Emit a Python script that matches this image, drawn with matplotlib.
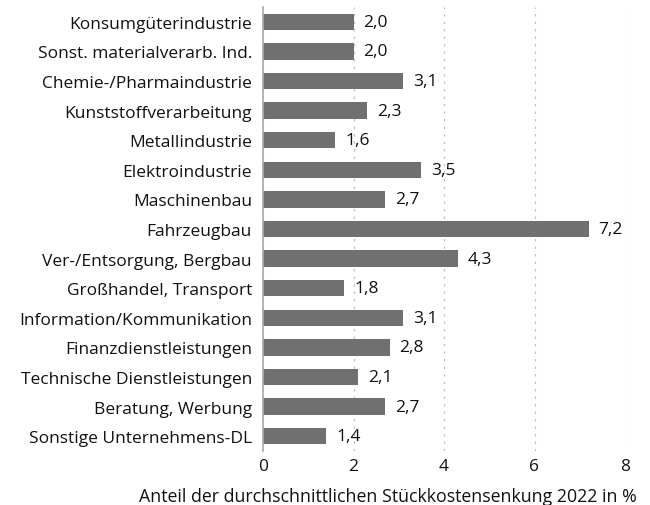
import matplotlib
matplotlib.use("Agg")
import matplotlib.pyplot as plt

categories = ["Konsumgüterindustrie", "Sonst. materialverarb. Ind.", "Chemie-/Pharmaindustrie",
              "Kunststoffverarbeitung", "Metallindustrie", "Elektroindustrie", "Maschinenbau",
              "Fahrzeugbau", "Ver-/Entsorgung, Bergbau", "Großhandel, Transport",
              "Information/Kommunikation", "Finanzdienstleistungen", "Technische Dienstleistungen",
              "Beratung, Werbung", "Sonstige Unternehmens-DL"]
values = [2.0, 2.0, 3.1, 2.3, 1.6, 3.5, 2.7, 7.2, 4.3, 1.8, 3.1, 2.8, 2.1, 2.7, 1.4]
xticks = [0, 2, 4, 6, 8]
xlabel = "Anteil der durchschnittlichen Stückkostensenkung 2022 in %"

FS = 12.5
TXT = "#111111"
plt.rcParams['font.family'] = ['Open Sans', 'DejaVu Sans']
fig = plt.figure(figsize=(6.5, 5.06), dpi=100)
ax = fig.add_axes([263/650, 1-452/506, 362/650, 444/506])
n = len(categories)
ypos = list(range(n))[::-1]
ax.barh(ypos, values, height=0.55, color="#707070", zorder=3)
for y, v in zip(ypos, values):
    ax.annotate(f"{v:.1f}".replace(".", ","), (v, y), xytext=(7, 0), textcoords="offset points",
                va="center", ha="left", fontsize=FS, color=TXT)
ax.set_xlim(0, 8)
ax.set_ylim(-0.5, n - 0.5)
ax.set_yticks(ypos)
ax.set_yticklabels(categories, fontsize=FS, color=TXT)
ax.set_xticks(xticks)
ax.set_xticklabels([str(t) for t in xticks], fontsize=FS, color=TXT)
ax.tick_params(axis='y', length=0, pad=8)
ax.tick_params(axis='x', length=0, pad=5)
for s in ["top", "right", "bottom"]:
    ax.spines[s].set_visible(False)
ax.spines["left"].set_color("#aaaaaa")
ax.spines["left"].set_linewidth(1.2)
ax.spines["left"].set_zorder(4)
ax.xaxis.grid(True, linestyle=(0, (2, 4)), color="#c0c0c0", linewidth=0.9, zorder=0)
ax.yaxis.grid(False)
fig.text(637/650, 1-497/506, xlabel, ha="right", va="center", fontsize=12.8, color=TXT)
fig.savefig("out.png", dpi=100)
